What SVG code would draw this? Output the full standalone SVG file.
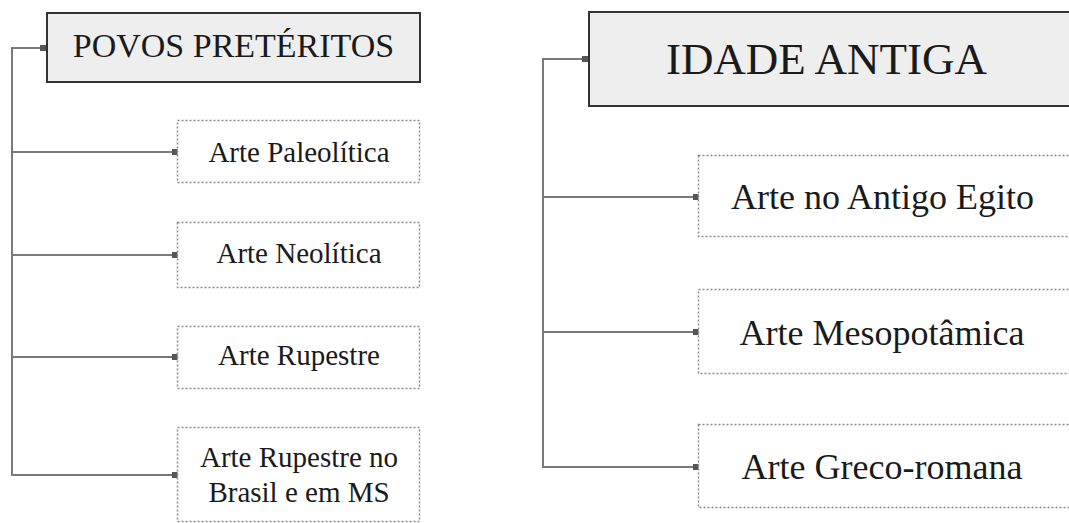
<svg xmlns="http://www.w3.org/2000/svg" width="1069" height="523" viewBox="0 0 1069 523">
<style>
.hdr{fill:#eeeeee;stroke:#333333;stroke-width:2}
.child{fill:#ffffff;stroke:#8a8a8a;stroke-width:1.5;stroke-dasharray:2 2}
.t{font-family:'Liberation Serif','DejaVu Serif',serif;fill:#1a1a1a;text-anchor:middle}
.line{fill:none;stroke:#7a7a7a;stroke-width:2}
.sq{fill:#555555}
</style>
<rect width="1069" height="523" fill="#ffffff"/>
<g id="connectors">
<path class="line" d="M47 48 H12 V475 H177"/>
<path class="line" d="M12 152 H177"/>
<path class="line" d="M12 255 H177"/>
<path class="line" d="M12 357 H177"/>
<rect class="sq" x="40" y="45" width="7" height="6"/>
<rect class="sq" x="172" y="149" width="6" height="6"/>
<rect class="sq" x="172" y="252" width="6" height="6"/>
<rect class="sq" x="172" y="354" width="6" height="6"/>
<rect class="sq" x="172" y="472" width="6" height="6"/>
<path class="line" d="M589 59 H543 V467 H698"/>
<path class="line" d="M543 197 H698"/>
<path class="line" d="M543 332 H698"/>
<rect class="sq" x="582" y="56" width="7" height="6"/>
<rect class="sq" x="693" y="194" width="6" height="6"/>
<rect class="sq" x="693" y="329" width="6" height="6"/>
<rect class="sq" x="693" y="464" width="6" height="6"/>
</g>
<g id="povos">
<rect class="hdr" x="47" y="13" width="373" height="69"/>
<text class="t" x="233.5" y="57" font-size="34" font-family="Liberation Serif, DejaVu Serif, serif">POVOS PRETÉRITOS</text>
</g>
<g id="paleolitica">
<rect class="child" x="177.5" y="120.5" width="242" height="62"/>
<text class="t" x="299" y="162" font-size="29" font-family="Liberation Serif, DejaVu Serif, serif">Arte Paleolítica</text>
</g>
<g id="neolitica">
<rect class="child" x="177.5" y="222.5" width="242" height="65"/>
<text class="t" x="299" y="263" font-size="29" font-family="Liberation Serif, DejaVu Serif, serif">Arte Neolítica</text>
</g>
<g id="rupestre">
<rect class="child" x="177.5" y="326.5" width="242" height="62"/>
<text class="t" x="299" y="365" font-size="29" font-family="Liberation Serif, DejaVu Serif, serif">Arte Rupestre</text>
</g>
<g id="rupestre-ms">
<rect class="child" x="177.5" y="427.5" width="242" height="94"/>
<text class="t" x="299" y="467" font-size="29" font-family="Liberation Serif, DejaVu Serif, serif">Arte Rupestre no</text>
<text class="t" x="299" y="502" font-size="29" font-family="Liberation Serif, DejaVu Serif, serif">Brasil e em MS</text>
</g>
<g id="idade-antiga">
<rect class="hdr" x="589" y="12" width="490" height="94"/>
<text class="t" x="826.5" y="74" font-size="45" font-family="Liberation Serif, DejaVu Serif, serif">IDADE ANTIGA</text>
</g>
<g id="egito">
<rect class="child" x="698.5" y="155.5" width="380" height="81"/>
<text class="t" x="882.5" y="209" font-size="36" font-family="Liberation Serif, DejaVu Serif, serif">Arte no Antigo Egito</text>
</g>
<g id="mesopotamica">
<rect class="child" x="698.5" y="289.5" width="380" height="84"/>
<text class="t" x="882" y="345" font-size="36" font-family="Liberation Serif, DejaVu Serif, serif">Arte Mesopotâmica</text>
</g>
<g id="greco-romana">
<rect class="child" x="698.5" y="424.5" width="380" height="83"/>
<text class="t" x="882" y="479" font-size="36" font-family="Liberation Serif, DejaVu Serif, serif">Arte Greco-romana</text>
</g>
</svg>
